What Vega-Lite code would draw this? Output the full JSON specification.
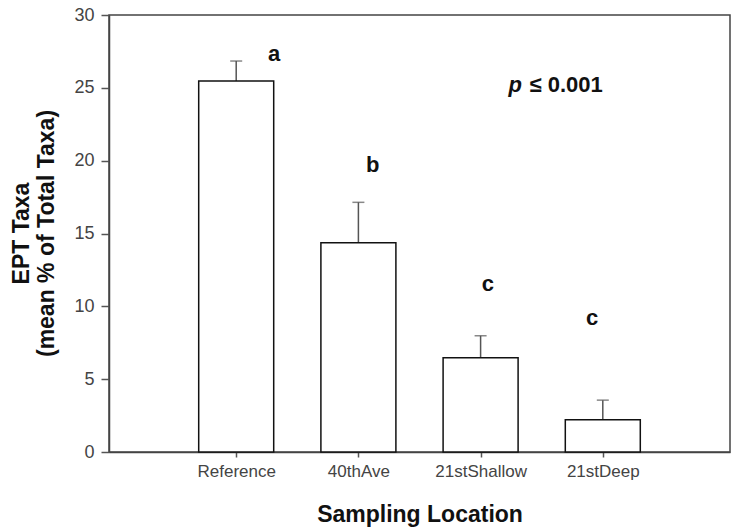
{
  "$schema": "https://vega.github.io/schema/vega-lite/v6.json",
  "width": 621,
  "height": 437,
  "autosize": "none",
  "padding": {"left": 109, "top": 15, "right": 1, "bottom": 77},
  "background": "white",
  "config": {
    "font": "Liberation Sans",
    "view": {"stroke": "#444", "strokeWidth": 1.5}
  },
  "datasets": {
    "bars": [
      {"loc": "Reference", "pos": 1, "mean": 25.47, "upper": 26.84},
      {"loc": "40thAve", "pos": 2, "mean": 14.37, "upper": 17.14},
      {"loc": "21stShallow", "pos": 3, "mean": 6.47, "upper": 7.98},
      {"loc": "21stDeep", "pos": 4, "mean": 2.21, "upper": 3.56}
    ],
    "letters": [
      {"txt": "a", "lx": 1.31, "ly": 26.84},
      {"txt": "b", "lx": 2.117, "ly": 19.22},
      {"txt": "c", "lx": 3.06, "ly": 11.04},
      {"txt": "c", "lx": 3.913, "ly": 8.69}
    ],
    "pval": [
      {"p": "p", "rest": "≤ 0.001", "px": 3.284, "rx": 3.4, "py": 24.71}
    ]
  },
  "layer": [
    {
      "data": {"name": "bars"},
      "mark": {"type": "rule", "color": "#555", "strokeWidth": 1.5},
      "encoding": {
        "x": {"field": "pos", "type": "quantitative"},
        "y": {"field": "mean", "type": "quantitative"},
        "y2": {"field": "upper"}
      }
    },
    {
      "data": {"name": "bars"},
      "mark": {"type": "tick", "orient": "horizontal", "size": 12, "thickness": 1.5, "color": "#555"},
      "encoding": {
        "x": {"field": "pos", "type": "quantitative"},
        "y": {"field": "upper", "type": "quantitative"}
      }
    },
    {
      "data": {"name": "bars"},
      "mark": {"type": "bar", "width": 75, "fill": "white", "stroke": "#111", "strokeWidth": 1.5},
      "encoding": {
        "x": {
          "field": "pos", "type": "quantitative",
          "scale": {"domain": [0, 5], "nice": false, "zero": false},
          "axis": {
            "values": [1, 2, 3, 4],
            "labelExpr": "datum.value == 1 ? 'Reference' : datum.value == 2 ? '40thAve' : datum.value == 3 ? '21stShallow' : '21stDeep'",
            "grid": false,
            "domainColor": "#444", "domainWidth": 1.5,
            "tickColor": "#555", "tickSize": 5, "tickWidth": 1.5,
            "labelFont": "Liberation Sans", "labelFontSize": 17, "labelColor": "#444", "labelPadding": 6,
            "title": "Sampling Location",
            "titleFont": "Liberation Sans", "titleFontSize": 23, "titleFontWeight": "bold", "titleColor": "#111",
            "titleBaseline": "alphabetic", "titleY": 69
          }
        },
        "y": {
          "field": "mean", "type": "quantitative",
          "scale": {"domain": [0, 30], "nice": false},
          "axis": {
            "values": [0, 5, 10, 15, 20, 25, 30],
            "grid": false,
            "domainColor": "#444", "domainWidth": 1.5,
            "tickColor": "#555", "tickSize": 8, "tickWidth": 1.5,
            "labelFont": "Liberation Sans", "labelFontSize": 18, "labelColor": "#444", "labelPadding": 7,
            "title": ["EPT Taxa", "(mean % of Total Taxa)"],
            "titleFont": "Liberation Sans", "titleFontSize": 23, "titleFontWeight": "bold", "titleColor": "#111",
            "titleLineHeight": 25,
            "titleAngle": -90, "titleAlign": "center", "titleBaseline": "middle",
            "titleX": -88, "titleY": 218
          }
        }
      }
    },
    {
      "data": {"name": "letters"},
      "mark": {"type": "text", "fontSize": 22, "fontWeight": "bold", "color": "#111", "align": "center", "baseline": "alphabetic"},
      "encoding": {
        "x": {"field": "lx", "type": "quantitative"},
        "y": {"field": "ly", "type": "quantitative"},
        "text": {"field": "txt"}
      }
    },
    {
      "data": {"name": "pval"},
      "mark": {"type": "text", "fontSize": 22, "fontWeight": "bold", "fontStyle": "italic", "color": "#111", "align": "center", "baseline": "alphabetic"},
      "encoding": {
        "x": {"field": "px", "type": "quantitative"},
        "y": {"field": "py", "type": "quantitative"},
        "text": {"field": "p"}
      }
    },
    {
      "data": {"name": "pval"},
      "mark": {"type": "text", "fontSize": 22, "fontWeight": "bold", "color": "#111", "align": "left", "baseline": "alphabetic"},
      "encoding": {
        "x": {"field": "rx", "type": "quantitative"},
        "y": {"field": "py", "type": "quantitative"},
        "text": {"field": "rest"}
      }
    }
  ]
}
